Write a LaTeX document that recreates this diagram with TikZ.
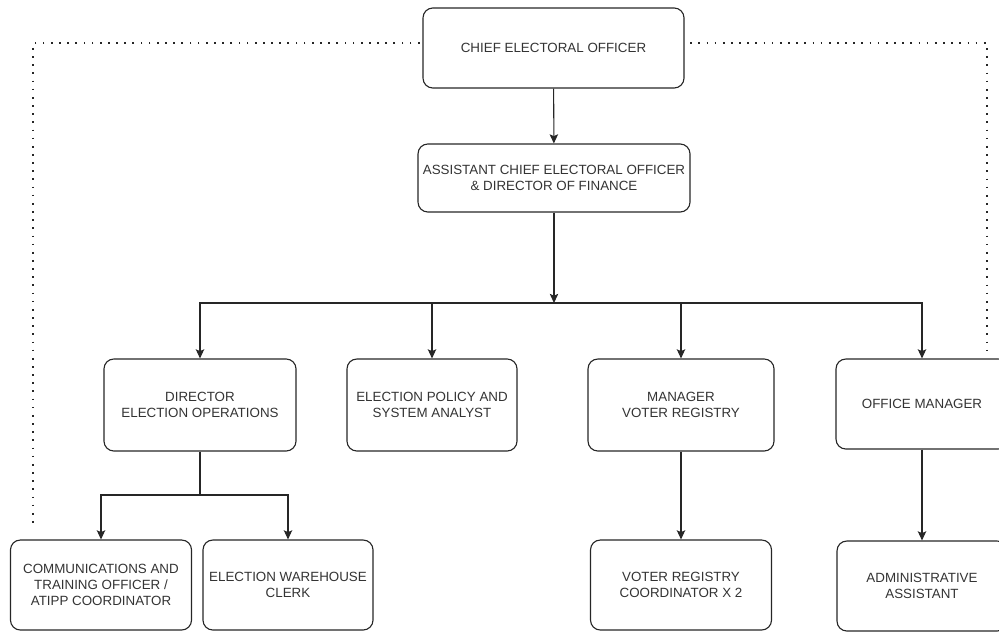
\documentclass[tikz,border=0pt]{standalone}
\usepackage{fontspec}
\setmainfont{Liberation Sans}
\usetikzlibrary{arrows.meta, calc}
\definecolor{boxline}{HTML}{262626}
\definecolor{boxtext}{HTML}{333333}

\begin{document}
\begin{tikzpicture}[x=0.025cm, y=-0.025cm,
		post/.style={draw=boxline, line width=0.8pt, rounded corners=7pt, align=center, text=boxtext, inner sep=0pt, font=\fontsize{9.5}{11.5}\selectfont},
		link/.style={draw=boxline, line width=0.75pt, -{Stealth[length=6.5pt, width=6pt, inset=1.3pt]}},
		dotline/.style={draw=boxline, line width=1.4pt, dash pattern=on 1.2pt off 4.6pt}]
	\useasboundingbox (0,0) rectangle (999,631);
	\begin{scope}
	\node[post, minimum width=261*0.025cm, minimum height=80*0.025cm] (ceo) at (553.5,48) {CHIEF ELECTORAL OFFICER};
	\node[post, minimum width=272*0.025cm, minimum height=68*0.025cm] (aceo) at (554,178) {ASSISTANT CHIEF ELECTORAL OFFICER\\\& DIRECTOR OF FINANCE};
	
	\node[post, minimum width=192*0.025cm, minimum height=92*0.025cm] (dir) at (200,405) {DIRECTOR\\ELECTION OPERATIONS};
	\node[post, minimum width=170*0.025cm, minimum height=92*0.025cm] (policy) at (432,405) {ELECTION POLICY AND\\SYSTEM ANALYST};
	\node[post, minimum width=186*0.025cm, minimum height=92*0.025cm] (mvr) at (681,405) {MANAGER\\VOTER REGISTRY};
	\node[post, minimum width=172*0.025cm, minimum height=90*0.025cm] (offm) at (922,404) {OFFICE MANAGER};
	
	\node[post, minimum width=181*0.025cm, minimum height=90*0.025cm] (comm) at (101,585) {COMMUNICATIONS AND\\TRAINING OFFICER /\\ATIPP COORDINATOR};
	\node[post, minimum width=170*0.025cm, minimum height=90*0.025cm] (clerk) at (288,585) {ELECTION WAREHOUSE\\CLERK};
	\node[post, minimum width=181*0.025cm, minimum height=90*0.025cm] (vrc) at (681,585) {VOTER REGISTRY\\COORDINATOR X 2};
	\node[post, minimum width=170*0.025cm, minimum height=90*0.025cm] (admin) at (922,586) {ADMINISTRATIVE\\ASSISTANT};
	
	\coordinate (bus) at (554,303);
	\coordinate (split) at (200,495);
	\coordinate (dotL) at (33,528);
	\coordinate (dotR) at (987,353);
	
	\draw[link] (ceo) -- (aceo);
	\draw[link] (aceo) -- (bus);
	\draw[link] (bus) -| (dir.north);
	\draw[link] (bus) -| (policy.north);
	\draw[link] (bus) -| (mvr.north);
	\draw[link] (bus) -| (offm.north);
	
	\draw[draw=boxline, line width=0.75pt] (dir) -- (split);
	\draw[link] (split) -| (comm.north);
	\draw[link] (split) -| (clerk.north);
	\draw[link] (mvr) -- (vrc);
	\draw[link] (offm) -- (admin);
	
	\draw[dotline] ([xshift=-2pt, yshift=3.5pt]ceo.west) -| (dotL);
	\draw[dotline] ([xshift=4pt, yshift=3.5pt]ceo.east) -| (dotR);
	\end{scope}
\end{tikzpicture}
\end{document}
